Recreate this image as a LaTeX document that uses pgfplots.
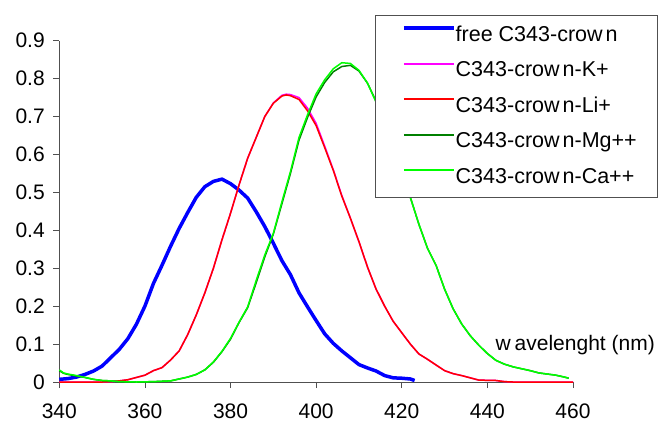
\documentclass[border=0pt]{standalone}
\usepackage{fontspec}
\setmainfont{Liberation Sans}
\usepackage{pgfplots}
\pgfplotsset{compat=1.18}
\definecolor{darkgreen}{RGB}{0,128,0}
\definecolor{brightgreen}{RGB}{0,255,0}
\definecolor{kplus}{RGB}{255,0,255}
\definecolor{axisgray}{RGB}{80,80,80}

\begin{document}
\begin{tikzpicture}
\begin{axis}[
  scale only axis, clip=false,
  width=513.7pt, height=341.3pt,
  xmin=340, xmax=460, ymin=0, ymax=0.9,
  axis x line=bottom, axis y line=left,
  axis line style={-, draw=axisgray, line width=0.8pt},
  xtick={340,360,...,460},
  ytick={0,0.1,0.2,0.3,0.4,0.5,0.6,0.7,0.8,0.9},
  tick align=outside, major tick length=6pt,
  tick style={draw=axisgray, line width=0.8pt},
  /pgf/number format/assume math mode=true,
  tick label style={font=\fontsize{21}{24}\selectfont},
  xticklabel style={yshift=-12pt},
  yticklabel style={xshift=-5pt},
  xlabel={w\kern4pt avelenght (nm)},
  every axis x label/.style={at={(rel axis cs:1.1596,0.0938)}, anchor=base east, font=\fontsize{21}{24}\selectfont, inner sep=0pt},
  legend cell align=left,
  legend style={at={(0.6146,1.0753)}, anchor=north west, draw=none, fill=none,
    font=\fontsize{21.5}{24}\selectfont, inner xsep=19pt, inner ysep=11pt,
    row sep=16.5pt, column sep=0pt,
    nodes={inner sep=0pt, text height=15pt, text depth=4pt}},
  legend image code/.code={\path (-8pt,0pt); \draw[#1] (0pt,7.5pt) -- (50pt,7.5pt);},
]
\addlegendimage{draw=blue, line width=3.5pt}
\addlegendimage{draw=kplus, line width=2pt}
\addlegendimage{draw=red, line width=2pt}
\addlegendimage{draw=darkgreen, line width=2pt}
\addlegendimage{draw=brightgreen, line width=2pt}
% free C343-crown
\addplot[color=blue, line width=3.5pt, forget plot] coordinates {
(340,0.007)(342,0.009)(344,0.013)(346,0.020)(348,0.029)(350,0.042)(352,0.064)(354,0.086)
(356,0.114)(358,0.152)(360,0.200)(362,0.260)(364,0.308)(366,0.358)(368,0.405)(370,0.447)
(372,0.487)(374,0.515)(376,0.529)(378,0.535)(380,0.523)(382,0.506)(384,0.485)(386,0.449)
(388,0.410)(390,0.366)(392,0.320)(394,0.283)(396,0.235)(398,0.198)(400,0.162)(402,0.127)
(404,0.102)(406,0.082)(408,0.064)(410,0.046)(412,0.037)(414,0.029)(416,0.017)(418,0.011)
(420,0.010)(422,0.008)(423,0.004)
};
% K+
\addplot[color=kplus, line width=1.5pt, forget plot] coordinates {
(340,0)(350,0)(352,0.001)(354,0.003)(356,0.006)(358,0.012)(360,0.018)(362,0.030)(364,0.038)
(366,0.058)(368,0.082)(370,0.125)(372,0.177)(374,0.235)(376,0.300)(378,0.375)(380,0.445)
(382,0.520)(384,0.590)(386,0.645)(388,0.700)(390,0.736)(392,0.756)(393,0.759)(394,0.758)
(396,0.750)(398,0.722)(400,0.682)(402,0.622)(404,0.560)(406,0.492)(408,0.432)(410,0.370)
(412,0.303)(414,0.245)(416,0.200)(418,0.160)(420,0.130)(422,0.100)(424,0.074)(426,0.060)
(428,0.045)(430,0.030)(432,0.022)(434,0.017)(436,0.011)(438,0.005)(442,0.004)(444,0.001)
(446,0)(460,0)
};
% Li+
\addplot[color=red, line width=1.5pt, forget plot] coordinates {
(340,0)(350,0)(352,0.001)(354,0.003)(356,0.006)(358,0.012)(360,0.018)(362,0.030)(364,0.038)
(366,0.058)(368,0.082)(370,0.125)(372,0.177)(374,0.235)(376,0.300)(378,0.375)(380,0.445)
(382,0.520)(384,0.590)(386,0.645)(388,0.700)(390,0.735)(392,0.754)(393,0.757)(394,0.755)
(396,0.745)(398,0.715)(400,0.676)(402,0.618)(404,0.558)(406,0.490)(408,0.432)(410,0.370)
(412,0.303)(414,0.245)(416,0.200)(418,0.160)(420,0.130)(422,0.100)(424,0.074)(426,0.060)
(428,0.045)(430,0.030)(432,0.022)(434,0.017)(436,0.011)(438,0.005)(442,0.004)(444,0.001)
(446,0)(460,0)
};
% Mg++
\addplot[color=darkgreen, line width=1.5pt, forget plot] coordinates {
(340,0.030)(341,0.023)(342,0.020)(344,0.016)(346,0.012)(348,0.007)(350,0.004)(352,0.003)
(354,0.001)(358,0)(362,0.001)(364,0.002)(366,0.003)(368,0.008)(370,0.013)(372,0.020)
(374,0.032)(376,0.052)(378,0.080)(380,0.113)(382,0.157)(384,0.196)(386,0.262)(388,0.330)
(390,0.390)(392,0.470)(394,0.550)(396,0.638)(398,0.698)(400,0.752)(402,0.790)(404,0.818)
(406,0.832)(408,0.835)(410,0.820)(412,0.788)(414,0.740)(416,0.680)(418,0.615)(420,0.545)
(422,0.487)(424,0.416)(426,0.353)(428,0.308)(430,0.245)(432,0.193)(434,0.153)(436,0.122)
(438,0.097)(440,0.075)(442,0.057)(444,0.047)(446,0.040)(448,0.035)(450,0.030)(452,0.024)
(454,0.021)(456,0.018)(458,0.013)(459,0.010)
};
% Ca++
\addplot[color=brightgreen, line width=1.5pt, forget plot] coordinates {
(340,0.032)(341,0.024)(342,0.021)(344,0.017)(346,0.012)(348,0.007)(350,0.004)(352,0.003)
(354,0.001)(358,0)(362,0.001)(364,0.002)(366,0.003)(368,0.008)(370,0.013)(372,0.020)
(374,0.032)(376,0.053)(378,0.081)(380,0.115)(382,0.158)(384,0.198)(386,0.268)(388,0.335)
(390,0.392)(392,0.475)(394,0.555)(396,0.645)(398,0.705)(400,0.760)(402,0.797)(404,0.826)
(406,0.842)(408,0.840)(410,0.822)(412,0.788)(414,0.738)(416,0.680)(418,0.615)(420,0.545)
(422,0.487)(424,0.416)(426,0.353)(428,0.308)(430,0.245)(432,0.193)(434,0.153)(436,0.122)
(438,0.097)(440,0.075)(442,0.057)(444,0.047)(446,0.040)(448,0.035)(450,0.030)(452,0.024)
(454,0.021)(456,0.018)(458,0.013)(459,0.010)
};
\legend{free C343-crow\kern3pt n, C343-crow\kern3pt n-K+, C343-crow\kern3pt n-Li+, C343-crow\kern3pt n-Mg++, C343-crow\kern3pt n-Ca++}
% white legend panel, over the curves and under the legend entries
\draw[axisgray, line width=0.8pt, fill=white] (rel axis cs:0.6146,1.0753) rectangle (rel axis cs:1.1635,0.5420);
\coordinate (bbll) at (rel axis cs:-0.1154,-0.1201);
\coordinate (bbur) at (rel axis cs:1.1674,1.1193);
\end{axis}
\pgfresetboundingbox
\path[use as bounding box] (bbll) rectangle (bbur);
\end{tikzpicture}
\end{document}
